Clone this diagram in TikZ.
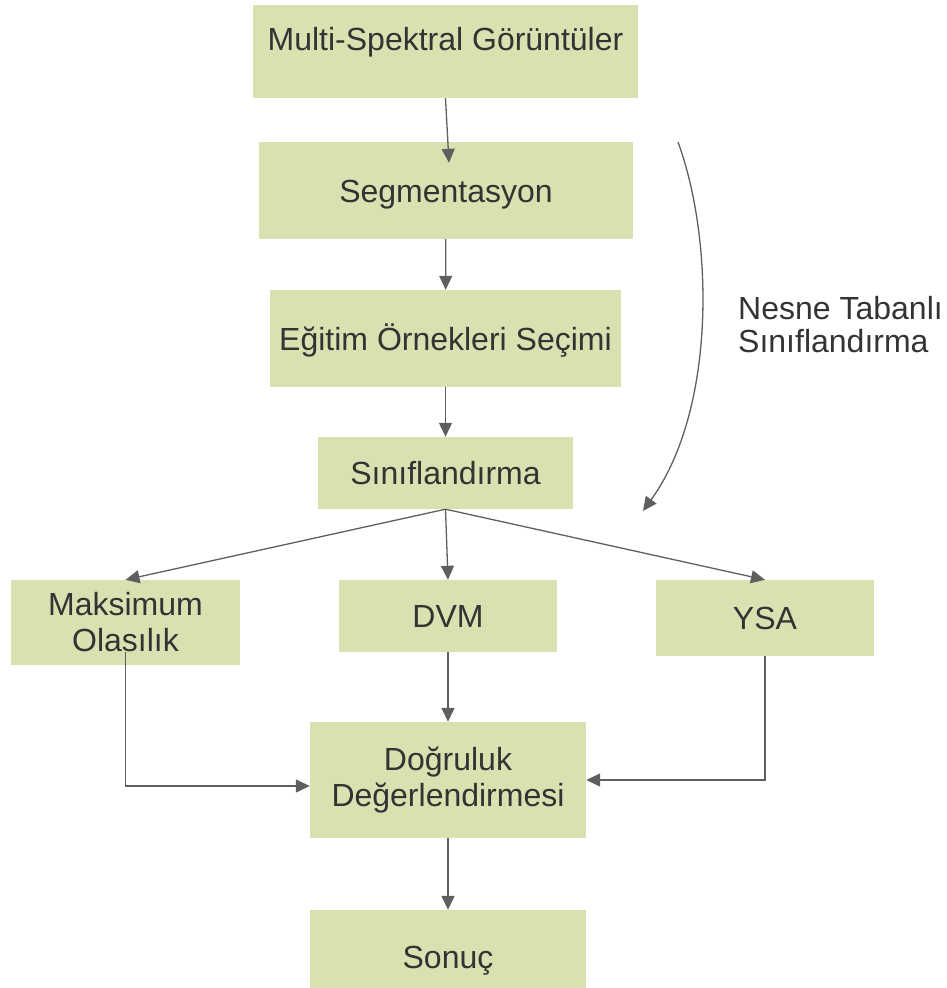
\documentclass[tikz,border=0pt]{standalone}
\usepackage{fontspec}
\setmainfont{Liberation Sans}
\usetikzlibrary{arrows.meta}
\definecolor{kutu}{RGB}{216,226,177}
\definecolor{yazi}{RGB}{51,51,51}
\definecolor{ok}{RGB}{95,95,95}

\begin{document}
\begin{tikzpicture}[x=1pt,y=-1pt]
  \tikzstyle{box}=[rectangle,fill=kutu,inner sep=0pt,text=yazi,font=\fontsize{32}{36}\selectfont,align=center]
  \tikzstyle{tek}=[text height=23pt,text depth=0pt]
  \tikzstyle{line}=[draw=ok,line width=1.3pt,-{Triangle[length=14pt,width=13pt]}]
  \useasboundingbox (0,0) rectangle (947,988);
  \node[box,minimum width=385pt,minimum height=93pt,text height=23pt,text depth=26pt] (multi) at (445.5,51.5) {Multi-Spektral Görüntüler};
  \node[box,tek,minimum width=374pt,minimum height=97pt] (seg) at (446,190.5) {Segmentasyon};
  \node[box,tek,minimum width=351pt,minimum height=97pt] (egitim) at (445.5,338.5) {Eğitim Örnekleri Seçimi};
  \node[box,tek,minimum width=255pt,minimum height=72pt] (sinif) at (445.5,473) {Sınıflandırma};
  \node[box,minimum width=229pt,minimum height=85pt] (maks) at (125.5,622.5) {Maksimum\\Olasılık};
  \node[box,tek,minimum width=218pt,minimum height=72pt] (dvm) at (448,616) {DVM};
  \node[box,tek,minimum width=218pt,minimum height=76pt] (ysa) at (765,618) {YSA};
  \node[box,minimum width=276pt,minimum height=116pt] (dogruluk) at (448,780) {Doğruluk\\Değerlendirmesi};
  \node[box,tek,minimum width=276pt,minimum height=93pt] (sonuc) at (448,956.5) {Sonuç};
  \node[text=yazi,font=\fontsize{32}{32.5}\selectfont,align=left,anchor=west,inner sep=0pt] (nesne) at (738,324.5) {Nesne Tabanlı\\Sınıflandırma};
  \coordinate (k1) at (678,142);
  \coordinate (k2) at (643,511);
  \draw[line] (multi.south) -- ([xshift=3pt,yshift=-21pt]seg.north);
  \draw[line] (seg) -- (egitim);
  \draw[line] (egitim) -- (sinif);
  \draw[line] (sinif.south) -- (maks.north);
  \draw[line] (sinif.south) -- (dvm.north);
  \draw[line] (sinif.south) -- (ysa.north);
  \draw[line] (dvm) -- (dogruluk);
  \draw[line] ([yshift=13pt]maks.south) |- ([yshift=-6pt]dogruluk.west);
  \draw[line] (ysa.south) |- (dogruluk.east);
  \draw[line] (dogruluk) -- (sonuc);
  \draw[line] (k1) .. controls (714,240) and (716,410) .. (k2);
\end{tikzpicture}
\end{document}
